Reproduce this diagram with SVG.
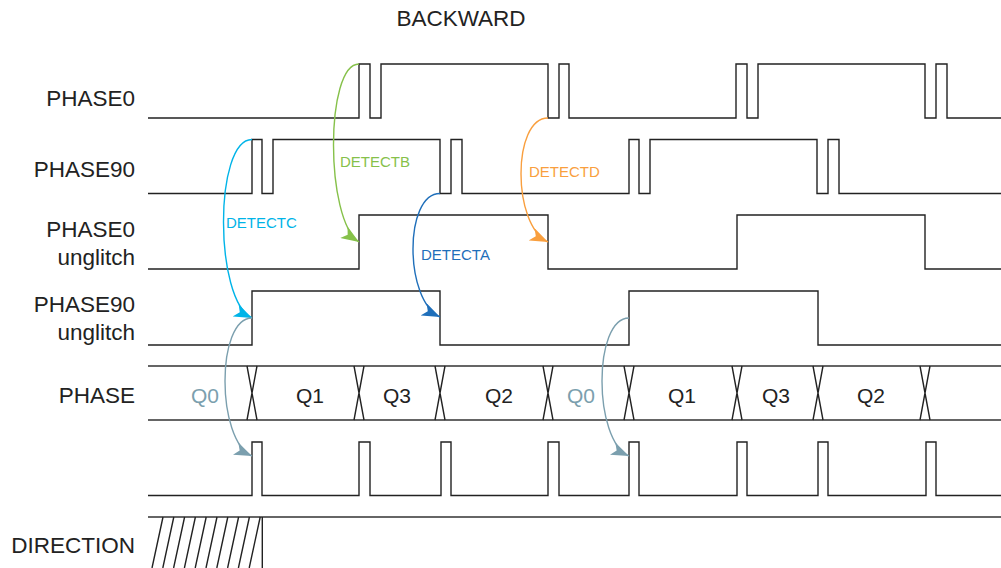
<svg xmlns="http://www.w3.org/2000/svg" width="1001" height="568" viewBox="0 0 1001 568">
<style>
.lbl{font-family:"Liberation Sans",Arial,sans-serif;font-size:22.5px;fill:#222;text-anchor:end}
.q{font-family:"Liberation Sans",Arial,sans-serif;font-size:21px;fill:#222;text-anchor:middle}
.q0{fill:#7b9fae}
.wave{fill:none;stroke:#222;stroke-width:1.4}
.bus{fill:none;stroke:#333;stroke-width:1.6}
.det{font-family:"Liberation Sans",Arial,sans-serif;font-size:15px}
.arr{fill:none;stroke-width:1.4}
</style>
<defs>
<marker id="mG" viewBox="0 0 16 12" refX="16" refY="6" markerWidth="18" markerHeight="13.5" markerUnits="userSpaceOnUse" orient="auto"><path d="M0,0 L16,6 L0,12 L4,6 Z" fill="#86c14a"/></marker>
<marker id="mC" viewBox="0 0 16 12" refX="16" refY="6" markerWidth="18" markerHeight="13.5" markerUnits="userSpaceOnUse" orient="auto"><path d="M0,0 L16,6 L0,12 L4,6 Z" fill="#00b4e8"/></marker>
<marker id="mB" viewBox="0 0 16 12" refX="16" refY="6" markerWidth="18" markerHeight="13.5" markerUnits="userSpaceOnUse" orient="auto"><path d="M0,0 L16,6 L0,12 L4,6 Z" fill="#1f6fba"/></marker>
<marker id="mO" viewBox="0 0 16 12" refX="16" refY="6" markerWidth="18" markerHeight="13.5" markerUnits="userSpaceOnUse" orient="auto"><path d="M0,0 L16,6 L0,12 L4,6 Z" fill="#f99f3e"/></marker>
<marker id="mS" viewBox="0 0 16 12" refX="16" refY="6" markerWidth="18" markerHeight="13.5" markerUnits="userSpaceOnUse" orient="auto"><path d="M0,0 L16,6 L0,12 L4,6 Z" fill="#7b9fae"/></marker>
</defs>
<rect width="1001" height="568" fill="#fff"/>
<text x="461" y="26" class="lbl" style="text-anchor:middle">BACKWARD</text>

<g id="phase0">
<text x="135" y="106" class="lbl">PHASE0</text>
<path class="wave" d="M148,118 H359 V64 H370 V118 H381 V64 H548 V118 H559 V64 H569 V118 H736 V64 H747 V118 H758 V64 H925 V118 H936 V64 H947 V118 H1001"/>
</g>
<g id="phase90">
<text x="135" y="177" class="lbl">PHASE90</text>
<path class="wave" d="M148,193.5 H252 V139.5 H262 V193.5 H273 V139.5 H440 V193.5 H451 V139.5 H462 V193.5 H629 V139.5 H639 V193.5 H650 V139.5 H817 V193.5 H828 V139.5 H839 V193.5 H1001"/>
</g>
<g id="phase0-unglitch">
<text x="135" y="237" class="lbl">PHASE0</text>
<text x="135" y="265" class="lbl">unglitch</text>
<path class="wave" d="M148,269 H359 V215 H548 V269 H737 V215 H925 V269 H1001"/>
</g>
<g id="phase90-unglitch">
<text x="135" y="312" class="lbl">PHASE90</text>
<text x="135" y="340" class="lbl">unglitch</text>
<path class="wave" d="M148,345 H252 V291 H440 V345 H629 V291 H818 V345 H1001"/>
</g>
<g id="phase">
<text x="135" y="403" class="lbl">PHASE</text>
<path class="bus" d="M148,366 H1001 M148,420 H1001"/>
<path class="wave" d="M247,366 L257,420 M257,366 L247,420 M354,366 L364,420 M364,366 L354,420 M435,366 L445,420 M445,366 L435,420 M543,366 L553,420 M553,366 L543,420 M624,366 L634,420 M634,366 L624,420 M732,366 L742,420 M742,366 L732,420 M813,366 L823,420 M823,366 L813,420 M920,366 L930,420 M930,366 L920,420"/>
<text x="205" y="403" class="q q0">Q0</text>
<text x="310" y="403" class="q">Q1</text>
<text x="397" y="403" class="q">Q3</text>
<text x="499" y="403" class="q">Q2</text>
<text x="581" y="403" class="q q0">Q0</text>
<text x="682" y="403" class="q">Q1</text>
<text x="776" y="403" class="q">Q3</text>
<text x="871" y="403" class="q">Q2</text>
</g>
<g id="pulse">
<path class="wave" d="M148,495.5 H252 V442 H262 V495.5 H359 V442 H370 V495.5 H441 V442 H451 V495.5 H548 V442 H559 V495.5 H629 V442 H639 V495.5 H737 V442 H747 V495.5 H818 V442 H828 V495.5 H926 V442 H936 V495.5 H1001"/>
</g>
<g id="direction">
<text x="135" y="553" class="lbl">DIRECTION</text>
<path class="bus" d="M148,517 H1001"/>
<path class="wave" d="M262.3,517 V568 M163,517 L152,568 M173.8,517 L162.8,568 M184.6,517 L173.6,568 M195.4,517 L184.4,568 M206.2,517 L195.2,568 M217,517 L206,568 M227.8,517 L216.8,568 M238.6,517 L227.6,568 M249.4,517 L238.4,568 M260.2,517 L249.2,568"/>
</g>

<g id="connectors">
<path class="arr" stroke="#86c14a" d="M359,64 C325,64 325,220 359,242" marker-end="url(#mG)"/>
<path class="arr" stroke="#00b4e8" d="M252,139.5 C214,139.5 214,300 252,318" marker-end="url(#mC)"/>
<path class="arr" stroke="#1f6fba" d="M440,193.5 C404,193.5 404,300 440,317" marker-end="url(#mB)"/>
<path class="arr" stroke="#f99f3e" d="M548,118 C512,118 512,225 548,242" marker-end="url(#mO)"/>
<path class="arr" stroke="#7b9fae" d="M252,318 C216,318 216,440 252,456" marker-end="url(#mS)"/>
<path class="arr" stroke="#7b9fae" d="M629,318 C593,318 593,440 629,456" marker-end="url(#mS)"/>
<text x="340" y="167" class="det" fill="#86c14a">DETECTB</text>
<text x="226" y="228" class="det" fill="#00b4e8">DETECTC</text>
<text x="421" y="260" class="det" fill="#1f6fba">DETECTA</text>
<text x="529" y="177" class="det" fill="#f99f3e">DETECTD</text>
</g>
</svg>
